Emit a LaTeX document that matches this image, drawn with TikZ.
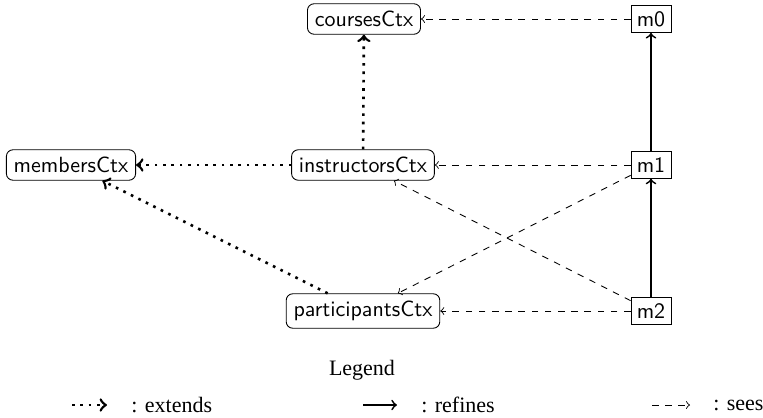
\documentclass[tikz,border=0pt]{standalone}
\usepackage{fontspec}
\newfontfamily\legendfont{Liberation Serif}
\begin{document}
\begin{tikzpicture}[x=0.4545pt,y=-0.4545pt,
  ctx/.style={draw,rounded corners=3pt,font=\sffamily},
  mach/.style={draw,font=\sffamily,inner sep=2.6pt},
  extends/.style={->,line width=1.2pt,dash pattern=on 1.2pt off 2.6pt},
  refines/.style={->,line width=0.8pt},
  sees/.style={->,dashed},
  legtext/.style={font=\legendfont,anchor=west,inner sep=0pt}]
\useasboundingbox (0,0) rectangle (763,417);
\node[ctx] (courses) at (364,19) {coursesCtx};
\node[mach] (m0) at (651,19) {m0};
\node[ctx] (members) at (71,165) {membersCtx};
\node[ctx] (instr) at (363,165) {instructorsCtx};
\node[mach] (m1) at (651,165) {m1};
\node[ctx] (part) at (363,311) {participantsCtx};
\node[mach] (m2) at (651,311) {m2};
\draw[sees] (m0) -- (courses);
\draw[sees] (m1) -- (instr);
\draw[sees] (m2) -- (part);
\draw[sees] (m1) -- (part);
\draw[sees] (m2) -- (instr);
\draw[refines] (m1) -- (m0);
\draw[refines] (m2) -- (m1);
\draw[extends] (instr) -- (courses);
\draw[extends] (instr) -- (members);
\draw[extends] (part) -- (members);
% legend
\node[font=\legendfont] (leg) at (362,370) {Legend};
\coordinate (e1) at (72,405); \coordinate (e2) at (107,405);
\draw[extends] (e1) -- (e2);
\node[legtext] (le) at (131,405) {: extends};
\coordinate (r1) at (363,405); \coordinate (r2) at (397,405);
\draw[refines] (r1) -- (r2);
\node[legtext] (lr) at (421,405) {: refines};
\coordinate (s1) at (652,405); \coordinate (s2) at (690,405);
\draw[sees] (s1) -- (s2);
\node[legtext] (ls) at (713,405) {: sees};
\end{tikzpicture}
\end{document}
